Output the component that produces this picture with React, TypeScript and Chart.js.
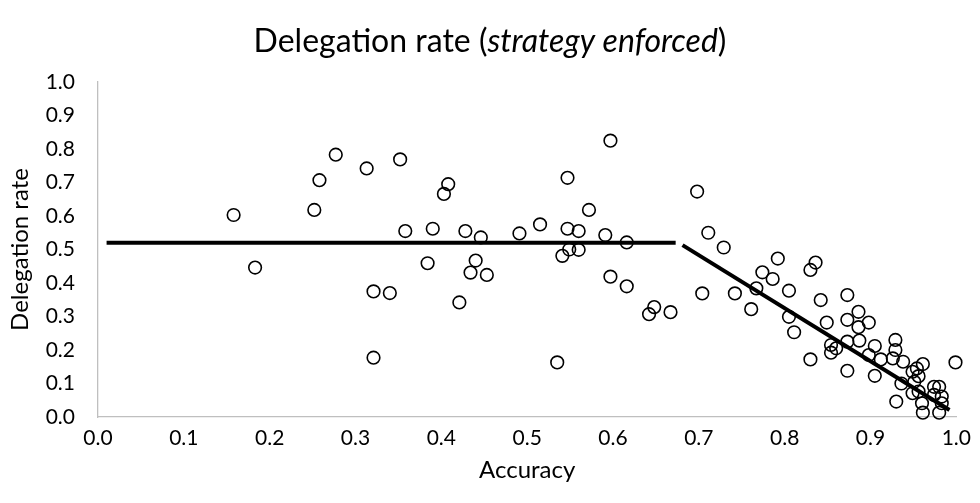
import { useEffect, useRef } from "react";
import { Chart, registerables } from "chart.js";

Chart.register(...registerables);

// Observed participants: accuracy vs. delegation rate
const accuracy = [
  0.158, 0.183, 0.252, 0.258, 0.277, 0.313, 0.352, 0.321, 0.34, 0.321,
  0.358, 0.39, 0.384, 0.408, 0.403, 0.428, 0.446, 0.44, 0.434, 0.453,
  0.421, 0.491, 0.515, 0.535, 0.547, 0.547, 0.56, 0.541, 0.549, 0.56,
  0.572, 0.597, 0.591, 0.616, 0.597, 0.616, 0.648, 0.642, 0.667, 0.698,
  0.711, 0.729, 0.704, 0.742, 0.761, 0.767, 0.774, 0.786, 0.792, 0.805,
  0.805, 0.811, 0.83, 0.836, 0.83, 0.842, 0.873, 0.849, 0.886, 0.873,
  0.886, 0.898, 0.854, 0.854, 0.86, 0.873, 0.887, 0.873, 0.905, 0.905,
  0.898, 0.912, 0.929, 0.929, 0.926, 0.938, 0.936, 0.93, 0.949, 0.954,
  0.961, 0.956, 0.951, 0.949, 0.956, 0.96, 0.961, 0.974, 0.98, 0.974,
  0.983, 0.983, 0.98, 0.999,
];
const delegationRate = [
  0.603, 0.446, 0.618, 0.707, 0.783, 0.742, 0.769, 0.375, 0.37, 0.177,
  0.555, 0.562, 0.459, 0.695, 0.666, 0.555, 0.536, 0.467, 0.431, 0.424,
  0.342, 0.548, 0.575, 0.163, 0.714, 0.562, 0.555, 0.481, 0.5, 0.499,
  0.618, 0.825, 0.543, 0.521, 0.419, 0.39, 0.328, 0.307, 0.313, 0.673,
  0.55, 0.506, 0.369, 0.369, 0.322, 0.384, 0.432, 0.412, 0.473, 0.377,
  0.299, 0.253, 0.439, 0.461, 0.172, 0.349, 0.364, 0.282, 0.314, 0.29,
  0.268, 0.282, 0.215, 0.192, 0.205, 0.225, 0.228, 0.138, 0.212, 0.123,
  0.185, 0.172, 0.23, 0.2, 0.175, 0.165, 0.1, 0.046, 0.135, 0.145,
  0.158, 0.122, 0.105, 0.071, 0.076, 0.041, 0.013, 0.09, 0.09, 0.066,
  0.061, 0.041, 0.013, 0.163,
];

// Piecewise fit: flat segment, then declining segment
const flatFitX = [0.01, 0.673];
const flatFitY = [0.52, 0.52];
const slopeFitX = [0.681, 0.992];
const slopeFitY = [0.513, 0.021];

const titleParts = [
  { text: "Delegation rate (", italic: false },
  { text: "strategy enforced", italic: true },
  { text: ")", italic: false },
];
const xAxisLabel = "Accuracy";
const yAxisLabel = "Delegation rate";

const FONT = "Lato, 'Open Sans', sans-serif";

const titlePlugin = {
  id: "mixedTitle",
  afterDraw(chart: any) {
    const ctx = chart.ctx;
    const size = 32;
    ctx.save();
    ctx.fillStyle = "#000";
    ctx.textBaseline = "middle";
    ctx.textAlign = "left";
    const fonts = titleParts.map(
      (p) => `${p.italic ? "italic " : ""}${size}px ${FONT}`
    );
    const widths = titleParts.map((p, i) => {
      ctx.font = fonts[i];
      return ctx.measureText(p.text).width;
    });
    const total = widths.reduce((a, b) => a + b, 0);
    let x = chart.width / 2 - total / 2;
    titleParts.forEach((p, i) => {
      ctx.font = fonts[i];
      ctx.fillText(p.text, x, 42);
      x += widths[i];
    });
    ctx.restore();
  },
};

export default function App() {
  const ref = useRef<HTMLCanvasElement | null>(null);

  useEffect(() => {
    if (!ref.current) return;
    const points = accuracy.map((a, i) => ({ x: a, y: delegationRate[i] }));
    const flat = flatFitX.map((x, i) => ({ x, y: flatFitY[i] }));
    const slope = slopeFitX.map((x, i) => ({ x, y: slopeFitY[i] }));

    const chart = new Chart(ref.current, {
      type: "scatter",
      data: {
        datasets: [
          {
            data: points,
            pointStyle: "circle",
            pointRadius: 6.3,
            pointBorderWidth: 1.6,
            pointBorderColor: "#000",
            pointBackgroundColor: "rgba(255,255,255,0)",
            showLine: false,
            clip: false,
          },
          {
            data: flat,
            showLine: true,
            borderColor: "#000",
            borderWidth: 4,
            pointRadius: 0,
            borderCapStyle: "butt",
            clip: false,
          },
          {
            data: slope,
            showLine: true,
            borderColor: "#000",
            borderWidth: 4,
            pointRadius: 0,
            borderCapStyle: "butt",
            clip: false,
          },
        ],
      },
      options: {
        responsive: false,
        animation: false,
        devicePixelRatio: 1,
        layout: { padding: { top: 82, right: 19, bottom: 0, left: 0 } },
        plugins: {
          legend: { display: false },
          tooltip: { enabled: false },
          title: { display: false },
        },
        scales: {
          x: {
            type: "linear",
            min: 0,
            max: 1,
            grid: { display: false, drawTicks: false },
            border: { display: true, color: "#bfbfbf", width: 1.3 },
            ticks: {
              stepSize: 0.1,
              padding: 9,
              color: "#000",
              font: { family: FONT, size: 21 },
              callback: (v: any) => Number(v).toFixed(1),
            },
            title: {
              display: true,
              text: xAxisLabel,
              color: "#000",
              font: { family: FONT, size: 24 },
              padding: { top: 0, bottom: 18 },
            },
            afterFit: (s: any) => {
              s.height = 86;
            },
          },
          y: {
            type: "linear",
            min: 0,
            max: 1,
            grid: { display: false, drawTicks: false },
            border: { display: true, color: "#bfbfbf", width: 1.3 },
            ticks: {
              stepSize: 0.1,
              padding: 23,
              color: "#000",
              font: { family: FONT, size: 21 },
              callback: (v: any) => Number(v).toFixed(1),
            },
            title: {
              display: true,
              text: yAxisLabel,
              color: "#000",
              font: { family: FONT, size: 24 },
              padding: { top: 6, bottom: 0 },
            },
            afterFit: (s: any) => {
              s.width = 98;
            },
          },
        },
      },
      plugins: [titlePlugin],
    });
    return () => chart.destroy();
  }, []);

  return (
    <div style={{ position: "fixed", left: 0, top: 0, width: 980, height: 503, background: "#fff" }}>
      <canvas ref={ref} width={980} height={503} style={{ width: 980, height: 503 }} />
    </div>
  );
}
